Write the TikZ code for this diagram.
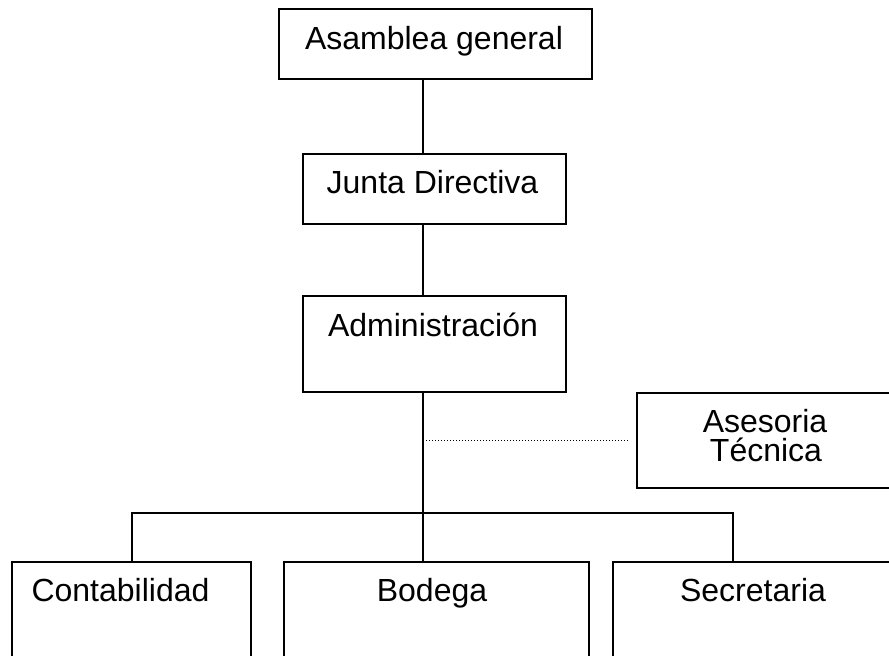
\documentclass[tikz,border=0pt]{standalone}
\usepackage{fontspec}
\setmainfont{Liberation Sans}
\begin{document}
\begin{tikzpicture}[x=1pt,y=1pt,
  box/.style={draw=black,line width=1.1pt,minimum width=#1,inner sep=0pt},
  lbl/.style={anchor=base,font=\fontsize{32}{38}\selectfont,inner sep=0pt},
  conn/.style={draw=black,line width=1.1pt}]
\useasboundingbox (0,0) rectangle (889,656);
\clip (0,0) rectangle (889,656);
\fill[white] (0,0) rectangle (889,656);
% boxes
\node[box=313pt,minimum height=70pt] (asamblea) at (435.5,612) {};
\node[box=263pt,minimum height=70pt] (junta) at (434.5,467) {};
\node[box=263pt,minimum height=96pt] (admin) at (434.5,312) {};
\node[box=313pt,minimum height=95pt] (asesoria) at (793.5,215.5) {};
\node[box=239pt,minimum height=138pt] (conta) at (131.5,25) {};
\node[box=305pt,minimum height=138pt] (bodega) at (436.5,25) {};
\node[box=337pt,minimum height=138pt] (secre) at (781.5,25) {};
% texts
\node[lbl] (tAsamblea) at (434,606) {Asamblea general};
\node[lbl] (tJunta) at (432.5,462) {Junta Directiva};
\node[lbl] (tAdmin) at (433,319) {Administración};
\node[lbl] (tAses1) at (765,223) {Asesoria};
\node[lbl] (tAses2) at (766,194) {Técnica};
\node[lbl] (tConta) at (120.5,54) {Contabilidad};
\node[lbl] (tBodega) at (432,54) {Bodega};
\node[lbl] (tSecre) at (753,54) {Secretaria};
% connectors
\coordinate (trunk) at (423,143);
\coordinate (busL) at (132,143);
\coordinate (busR) at (733,143);
\coordinate (dotEnd) at (628,215);
\draw[conn] (asamblea.south -| trunk) -- (junta.north -| trunk);
\draw[conn] (junta.south -| trunk) -- (admin.north -| trunk);
\draw[conn] (admin.south -| trunk) -- (bodega.north -| trunk);
\draw[conn] (conta.north -| busL) -- (busL) -- (busR) -- (secre.north -| busR);
\draw[draw=black,line width=1pt,dotted] (dotEnd -| trunk) -- (dotEnd);
\end{tikzpicture}
\end{document}
